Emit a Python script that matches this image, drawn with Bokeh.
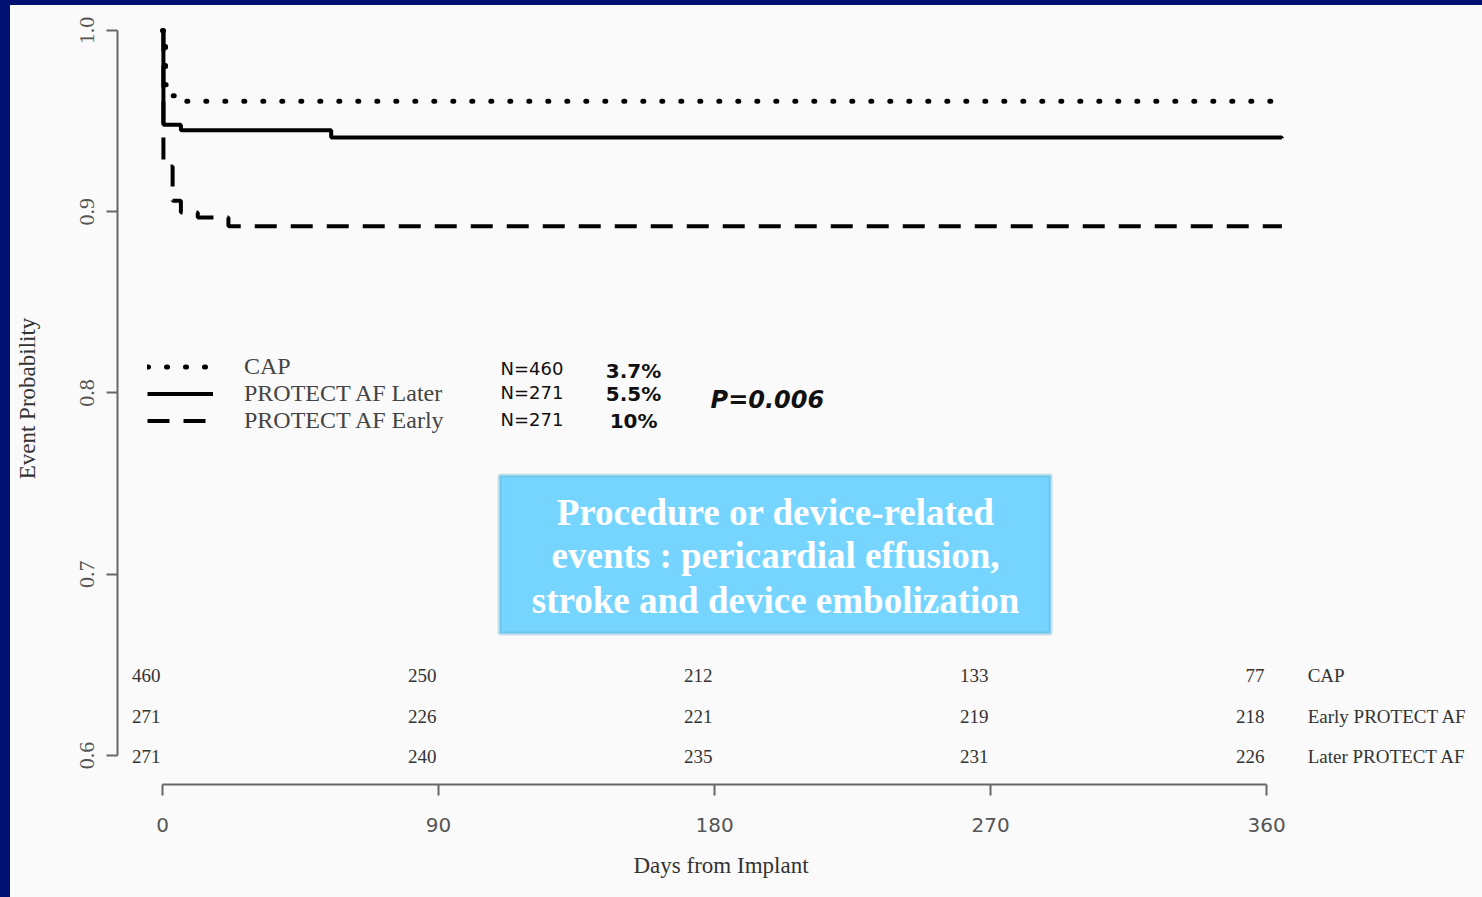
from bokeh.plotting import figure
from bokeh.models import (FixedTicker, LinearAxis, Legend, LegendItem, BoxAnnotation,
                          Range1d, ColumnDataSource, PrintfTickFormatter, Title)
from bokeh.core.properties import value
from bokeh.layouts import column
from bokeh.embed import file_html
from bokeh.resources import INLINE

# ---------------- data ----------------
cap_days = [0, 1, 3, 7, 365]
cap_surv = [1.0, 0.970, 0.964, 0.961, 0.961]

later_days = [0, 0.3, 6, 55, 365]
later_surv = [1.0, 0.948, 0.945, 0.941, 0.9405]

early_days = [0, 0.3, 3.3, 6, 11.5, 21.5, 365]
early_surv = [1.0, 0.925, 0.906, 0.8996, 0.8968, 0.892, 0.892]

series_names = ["CAP", "PROTECT AF Later", "PROTECT AF Early"]
n_labels = ["N=460", "N=271", "N=271"]
pct_labels = ["3.7%", "5.5%", "10%"]
p_value_label = "P=0.006"

risk_days = [0, 90, 180, 270, 360]
risk_cap = [460, 250, 212, 133, 77]
risk_early = [271, 226, 221, 219, 218]
risk_later = [271, 240, 235, 231, 226]
risk_groups = ["CAP", "Early PROTECT AF", "Later PROTECT AF"]

x_ticks = [0, 90, 180, 270, 360]
y_ticks = [0.6, 0.7, 0.8, 0.9, 1.0]

box_lines = ["Procedure or device-related",
             "events : pericardial effusion,",
             "stroke and device embolization"]

# ---------------- figure ----------------
SERIF = "Liberation Serif"
SANS = "DejaVu Sans"
PAPER = "#fafafa"

p = figure(width=1472, height=892, output_backend="svg", toolbar_location=None,
           x_range=Range1d(-14.67, 429.1), y_range=Range1d(0.584, 1.00993),
           x_axis_type=None, y_axis_type=None,
           min_border_left=107, min_border_right=4, min_border_top=7, min_border_bottom=113,
           background_fill_color=PAPER, border_fill_color=PAPER,
           outline_line_color=None)
p.xgrid.visible = False
p.ygrid.visible = False
p.margin = (5, 0, 0, 10)
p.styles = {"background-color": PAPER}

def style_axis(ax):
    ax.axis_line_color = "#666666"
    ax.axis_line_width = 2
    ax.major_tick_line_color = "#666666"
    ax.major_tick_line_width = 2
    ax.major_tick_in = 0
    ax.major_tick_out = 11
    ax.minor_tick_line_color = None

yaxis = LinearAxis(bounds=(0.6, 1.0), ticker=FixedTicker(ticks=y_ticks),
                   formatter=PrintfTickFormatter(format="%.1f"),
                   axis_label="Event Probability")
style_axis(yaxis)
yaxis.major_label_orientation = "vertical"
yaxis.major_label_text_font = SERIF
yaxis.major_label_text_font_size = "22px"
yaxis.major_label_text_color = "#555555"
yaxis.major_label_standoff = 12
yaxis.axis_label_text_font = SERIF
yaxis.axis_label_text_font_style = "normal"
yaxis.axis_label_text_font_size = "23px"
yaxis.axis_label_text_color = "#333333"
yaxis.axis_label_standoff = 38
p.add_layout(yaxis, "left")

xaxis = LinearAxis(bounds=(0, 360), ticker=FixedTicker(ticks=x_ticks))
style_axis(xaxis)
xaxis.major_label_text_font = SANS
xaxis.major_label_text_font_size = "20px"
xaxis.major_label_text_color = "#555555"
xaxis.major_label_standoff = 22
p.add_layout(xaxis, "below")

# x-axis title, centred under the 0-360 axis span (like the original)
xtitle = Title(text="Days from Implant", align="left", offset=516, standoff=33,
               text_font=SERIF, text_font_size="23px", text_font_style="normal",
               text_color="#333333")
p.add_layout(xtitle, "below")

# ---------------- info box ----------------
box = BoxAnnotation(left=109.9, right=289.6, top=0.7545, bottom=0.6673,
                    fill_color="#76d5ff", fill_alpha=1.0,
                    line_color="#55a5c8", line_width=4, level="underlay")
p.add_layout(box)
p.text(x=[199.9] * 3, y=[0.7341, 0.7103, 0.6855], text=box_lines,
       text_font=value(SERIF), text_font_style="bold", text_font_size="37px",
       text_color="white", text_align="center", text_baseline="middle")

# ---------------- curves ----------------
r_cap = p.step(cap_days, cap_surv, mode="after", line_color="black",
               line_width=5, line_dash="1 18", line_cap="round")
r_later = p.step(later_days, later_surv, mode="after", line_color="black",
                 line_width=4)
r_early = p.step(early_days, early_surv, mode="after", line_color="black",
                 line_width=4, line_dash="22 14")

legend = Legend(items=[LegendItem(label=series_names[0], renderers=[r_cap]),
                       LegendItem(label=series_names[1], renderers=[r_later]),
                       LegendItem(label=series_names[2], renderers=[r_early])],
                location=(30, 350), orientation="vertical",
                glyph_width=66, glyph_height=27, label_height=27, spacing=0,
                label_standoff=31, padding=0, margin=0,
                border_line_color=None, background_fill_alpha=0,
                label_text_font=SERIF, label_text_font_size="24px",
                label_text_color="#444444")
p.add_layout(legend)

# ---------------- N / percentages / p-value ----------------
p.text(x=[110.2] * 3, y=[0.8135, 0.8003, 0.7854], text=n_labels,
       text_font=value(SANS), text_font_size="18px", text_color="#111111",
       text_align="left", text_baseline="middle")
p.text(x=[153.6] * 3, y=[0.8124, 0.7992, 0.7843], text=pct_labels,
       text_font=value(SANS), text_font_style="bold", text_font_size="20px",
       text_color="#111111", text_align="center", text_baseline="middle")
p.text(x=[178.7], y=[0.7959], text=[p_value_label],
       text_font=value(SANS), text_font_style="bold italic", text_font_size="24px",
       text_color="#111111", text_align="left", text_baseline="middle")

# ---------------- numbers at risk ----------------
row_y = [0.6441, 0.6215, 0.5994]
for vals, yy in zip([risk_cap, risk_early, risk_later], row_y):
    src = ColumnDataSource(dict(x=risk_days, y=[yy] * len(risk_days),
                                t=[str(v) for v in vals]))
    p.text(x="x", y="y", text="t", source=src, x_offset=-2,
           text_font=value(SERIF), text_font_size="19px", text_color="#333333",
           text_align="right", text_baseline="middle")
p.text(x=[373.4] * 3, y=row_y, text=risk_groups,
       text_font=value(SERIF), text_font_size="19px", text_color="#333333",
       text_align="left", text_baseline="middle")

page = column(p, styles={"background-color": "#001172"})
open("out.html", "w").write(file_html(page, INLINE))
